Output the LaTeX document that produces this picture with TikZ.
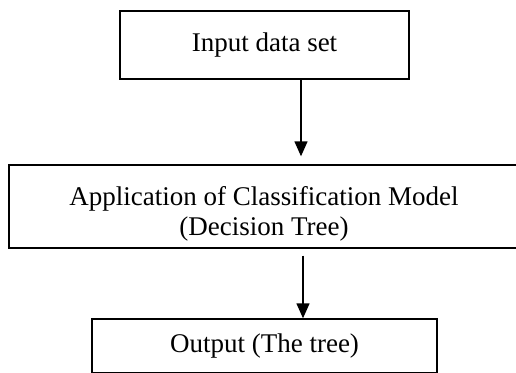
\documentclass[tikz,border=0pt]{standalone}
\usepackage{fontspec}
\setmainfont{Liberation Serif}
\usetikzlibrary{arrows.meta}
\begin{document}
\begin{tikzpicture}[x=1pt,y=-1pt,
  stagebox/.style={draw=black, line width=1.4pt, fill=white, inner sep=0pt,
    align=center, font=\fontsize{27}{30}\selectfont},
  flow/.style={line width=1.4pt, -{Triangle[length=15pt,width=13pt]}}]
  \useasboundingbox (0,0) rectangle (516,372);
  \begin{scope}
    \clip (0,0) rectangle (516,372);
    % three stages of the process
    \node[stagebox, minimum width=289pt, minimum height=68pt] (input) at (264.5,45) {Input data set};
    \node[stagebox, minimum width=510pt, minimum height=83pt] (model) at (264,206.5)
      {\rule{0pt}{33pt}Application of Classification Model\\(Decision Tree)};
    \node[stagebox, minimum width=345pt, minimum height=54pt] (output) at (264.5,346) {Output (The tree)};
    % arrows between the stages
    \draw[flow, shorten >=8pt] ([xshift=36.5pt]input.south) -- ([xshift=36.5pt]input.south |- model.north);
    \draw[flow, shorten <=7pt] ([xshift=39pt]model.south) -- ([xshift=39pt]model.south |- output.north);
  \end{scope}
\end{tikzpicture}
\end{document}
